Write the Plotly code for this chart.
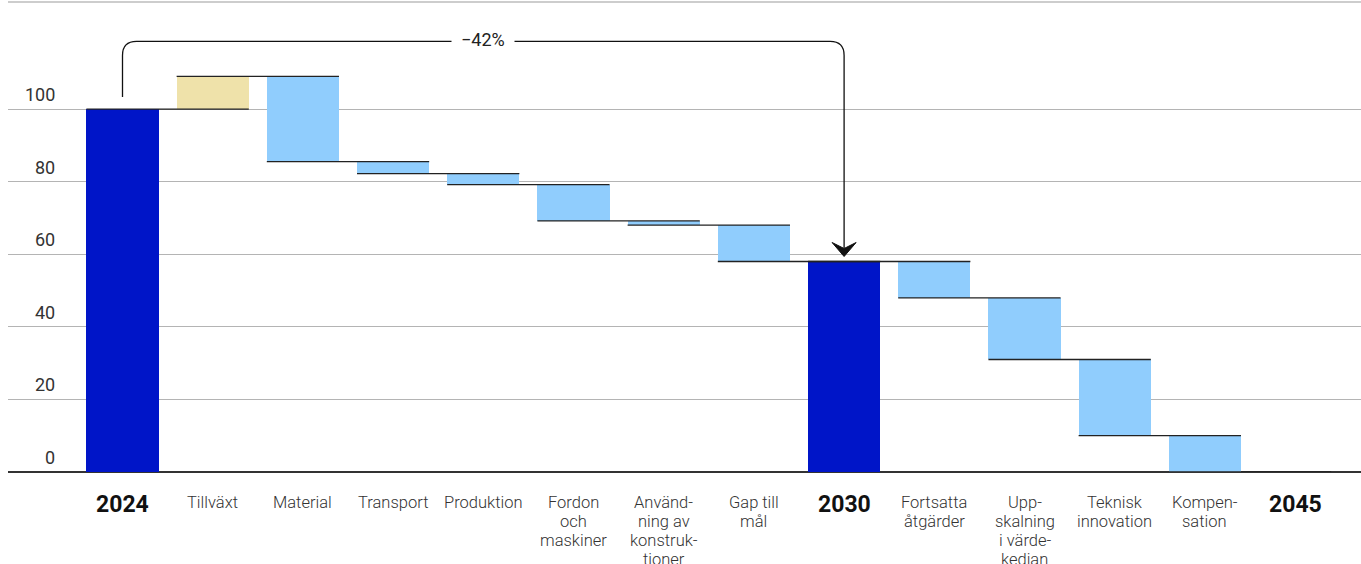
import plotly.graph_objects as go

# ---------------- data ----------------
categories = ["2024", "Tillväxt", "Material", "Transport", "Produktion",
              "Fordon<br>och<br>maskiner", "Använd-<br>ning av<br>konstruk-<br>tioner",
              "Gap till<br>mål", "2030", "Fortsatta<br>åtgärder",
              "Upp-<br>skalning<br>i värde-<br>kedian", "Teknisk<br>innovation",
              "Kompen-<br>sation", "2045"]
kinds = ["total", "delta", "delta", "delta", "delta", "delta", "delta",
         "delta", "total", "delta", "delta", "delta", "delta", "total"]
values = [100, 9, -23.5, -3.3, -3.0, -10.0, -1.2, -10.0, 58, -10.0, -17.0, -21.0, -10.0, 0]
y_ticks = [0, 20, 40, 60, 80, 100]
change_label = "−42%"
change_from, change_to = 0, 8   # indices of 2024 and 2030

# ---------------- style ----------------
C_TOTAL = "#0015C8"
C_UP = "#EFE2AA"
C_DOWN = "#90CDFD"
FONT = "Roboto"
BAR_W = 0.8

# ---------------- derived geometry from data ----------------
x_idx = list(range(len(categories)))
bases, heights, colors, levels = [], [], [], []
level = 0.0
for k, v in zip(kinds, values):
    if k == "total":
        bases.append(0)
        heights.append(v)
        colors.append(C_TOTAL)
        level = v
    else:
        new = level + v
        bases.append(min(level, new))
        heights.append(abs(v))
        colors.append(C_UP if v > 0 else C_DOWN)
        level = new
    levels.append(level)

fig = go.Figure()
fig.add_trace(go.Bar(x=x_idx, y=heights, base=bases, width=BAR_W,
                     marker=dict(color=colors, line=dict(width=0)),
                     hoverinfo="skip", showlegend=False))

# connector lines spanning a bar and the next one
cx, cy = [], []
for i in range(len(categories) - 1):
    cx += [i - BAR_W / 2, i + 1 + BAR_W / 2, None]
    cy += [levels[i], levels[i], None]
fig.add_trace(go.Scatter(x=cx, y=cy, mode="lines",
                         line=dict(color="#222222", width=1.3),
                         hoverinfo="skip", showlegend=False))

# ---------------- layout ----------------
W, H = 1361, 564
ML, MR, MT, MB = 8, 0, 2, 92
plot_h = H - MT - MB
plot_w = W - ML - MR
x0_px = 122.5 - ML          # px of first category centre inside plot
dx_px = 90.2                # px per category
x_lo = -x0_px / dx_px
x_hi = x_lo + plot_w / dx_px
y_hi = 129.5
py = plot_h / y_hi          # px per unit

fig.update_layout(
    width=W, height=H,
    margin=dict(l=ML, r=MR, t=MT, b=MB, pad=0),
    paper_bgcolor="white", plot_bgcolor="white",
    bargap=0,
    font=dict(family=FONT, color="#333333"),
    xaxis=dict(range=[x_lo, x_hi], showgrid=False, zeroline=False,
               showticklabels=False, ticks="", showline=False, fixedrange=True),
    yaxis=dict(range=[0, y_hi], tickvals=y_ticks, showticklabels=False,
               showgrid=True, gridcolor="#b4b4b4", gridwidth=1,
               zeroline=True, zerolinecolor="#333333", zerolinewidth=1.6,
               showline=False, ticks="", fixedrange=True),
)

# top border line
fig.add_shape(type="line", xref="paper", yref="paper", x0=0, x1=1, y0=1, y1=1,
              line=dict(color="#bdbdbd", width=1.5))

# y tick labels (inside plot, above gridlines)
for t in y_ticks:
    fig.add_annotation(xref="paper", yref="y", x=(57 - ML) / plot_w, y=t,
                       text=str(t), showarrow=False, xanchor="right",
                       yanchor="middle", yshift=14.5,
                       font=dict(size=18, color="#333333", family=FONT))

# category labels
for i, (cat, k) in enumerate(zip(categories, kinds)):
    if k == "total":
        fig.add_annotation(xref="x", yref="paper", x=i, y=-(504 - (H - MB)) / plot_h,
                           text="<b>" + cat + "</b>", showarrow=False,
                           xanchor="center", yanchor="middle",
                           font=dict(size=23, color="#111111", family=FONT))
    else:
        for j, line in enumerate(cat.split("<br>")):
            fig.add_annotation(xref="x", yref="paper", x=i,
                               y=-(502 + 19 * j - (H - MB)) / plot_h,
                               text=line, showarrow=False,
                               xanchor="center", yanchor="middle",
                               font=dict(size=16.5, color="#333333", family=FONT,
                                         weight=300))

# bracket arrow from 2024 to 2030
bracket_y = 118.65
start_y = values[change_from] + 12 / py
tip_y = values[change_to] + 5 / py
rx = 14 / dx_px
ry = 14 / py
xa, xb = change_from, change_to
path = (f"M {xa},{start_y} L {xa},{bracket_y - ry} Q {xa},{bracket_y} {xa + rx},{bracket_y} "
        f"L {xb - rx},{bracket_y} Q {xb},{bracket_y} {xb},{bracket_y - ry} "
        f"L {xb},{tip_y + 8 / py}")
fig.add_shape(type="path", xref="x", yref="y", path=path,
              line=dict(color="#111111", width=1.3))
hw = 12 / dx_px
head = (f"M {xb},{tip_y} L {xb - hw},{tip_y + 14 / py} L {xb},{tip_y + 8 / py} "
        f"L {xb + hw},{tip_y + 14 / py} Z")
fig.add_shape(type="path", xref="x", yref="y", path=head,
              fillcolor="#111111", line=dict(color="#111111", width=1))

fig.add_annotation(xref="x", yref="y", x=(xa + xb) / 2, y=bracket_y, text=change_label,
                   showarrow=False, bgcolor="white", borderpad=9,
                   xanchor="center", yanchor="middle", yshift=2,
                   font=dict(size=18, color="#222222", family=FONT))

fig.write_html("out.html", config={"displayModeBar": False},
               post_script="document.body.style.margin='0';document.body.style.overflow='hidden';")
